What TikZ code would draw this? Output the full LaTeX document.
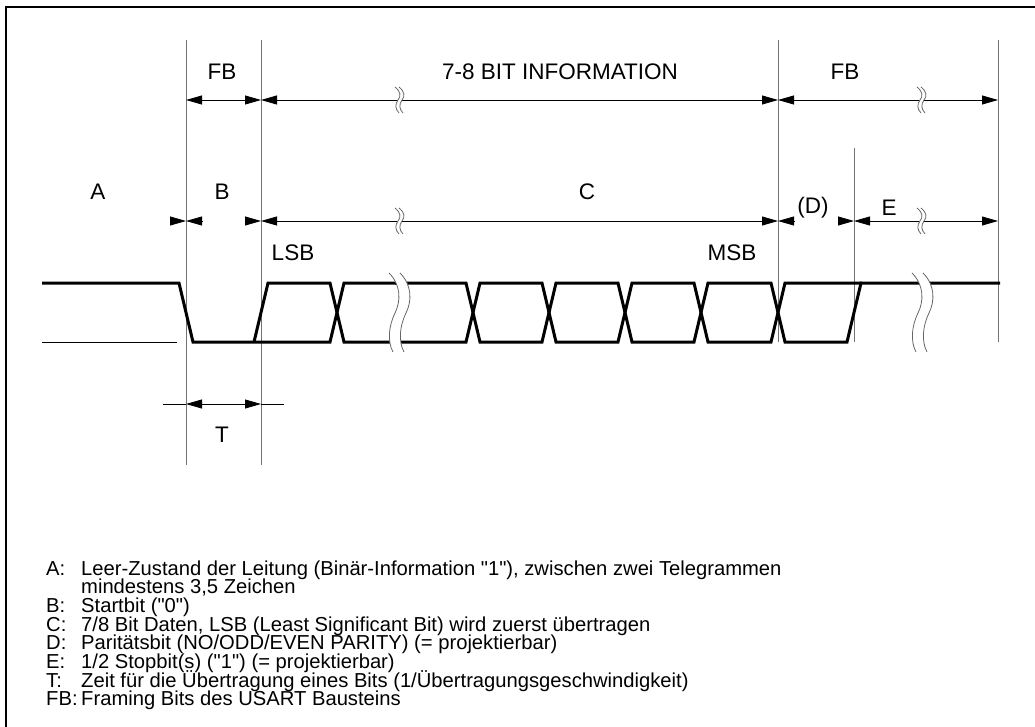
\documentclass[tikz,border=0pt]{standalone}
\usepackage{fontspec}
\setmainfont{Liberation Sans}[Ligatures=TeXOff]
\usetikzlibrary{arrows.meta}
\begin{document}
\begin{tikzpicture}[x=1pt,y=-1pt,
  >={Triangle[length=16pt,width=9pt]},
  frame/.style={draw=black, line width=2.5pt},
  guide/.style={draw=black!55, line width=0.9pt},
  dim/.style={draw=black, line width=0.8pt},
  wave/.style={draw=black, line width=3pt, line join=miter},
  thinwave/.style={draw=black, line width=1pt},
  lbl/.style={font=\fontsize{22.5}{23}\selectfont, inner sep=0pt},
  leg/.style={font=\fontsize{20.2}{20}\selectfont, inner sep=0pt, anchor=base west},
  brk/.style={draw=black!60, line width=0.8pt},
  sbreak/.pic={
    \fill[white] (-3,-13) .. controls (3,-8) and (3,-4) .. (0,0) .. controls (-3,4) and (-3,9) .. (1,13)
      -- (5,13) .. controls (1,9) and (1,4) .. (4,0) .. controls (7,-4) and (7,-8) .. (1,-13) -- cycle;
    \draw[brk] (-3,-13) .. controls (3,-8) and (3,-4) .. (0,0) .. controls (-3,4) and (-3,9) .. (1,13);
    \draw[brk] (1,-13) .. controls (7,-8) and (7,-4) .. (4,0) .. controls (1,4) and (1,9) .. (5,13);
  },
  bbreak/.pic={
    \fill[white] (-8,-40) .. controls (4,-28) and (4,-12) .. (-2,0) .. controls (-8,12) and (-10,28) .. (-4,39)
      -- (7,39) .. controls (1,28) and (3,12) .. (9,0) .. controls (15,-12) and (15,-28) .. (3,-40) -- cycle;
    \draw[brk] (-8,-40) .. controls (4,-28) and (4,-12) .. (-2,0) .. controls (-8,12) and (-10,28) .. (-4,39);
    \draw[brk] (3,-40) .. controls (15,-28) and (15,-12) .. (9,0) .. controls (3,12) and (1,28) .. (7,39);
  }
]
\useasboundingbox (0,0) rectangle (1035,727);
% frame (top and left edges)
\draw[frame] (6,727) -- (6,7) -- (1035,7);

% guide lines
\coordinate (g1t) at (186,40);  \coordinate (g1b) at (186,465);
\coordinate (g2t) at (261,40);  \coordinate (g2b) at (261,465);
\coordinate (g3t) at (778,40);  \coordinate (g3b) at (778,342);
\coordinate (g4t) at (854,148); \coordinate (g4b) at (854,342);
\coordinate (g5t) at (998,40);  \coordinate (g5b) at (998,342);
\foreach \g in {1,...,5} {\draw[guide] (g\g t) -- (g\g b);}

% waveform
\draw[thinwave] (42,342) -- (177,342);
\draw[wave] (42,283) -- (179,283) -- (193,342) -- (330,342) -- (344,283) -- (400,283);
\draw[wave] (254,342) -- (268,283) -- (330,283) -- (344,342) -- (400,342);
\draw[wave] (395,283) -- (466,283) -- (480,342) -- (542,342) -- (556,283) -- (618,283) -- (632,342)
  -- (694,342) -- (708,283) -- (771,283) -- (785,342) -- (847,342) -- (861,283) -- (1000,283);
\draw[wave] (395,342) -- (466,342) -- (480,283) -- (542,283) -- (556,342) -- (618,342) -- (632,283)
  -- (694,283) -- (708,342) -- (771,342) -- (785,283) -- (862,283);
\pic at (397,313) {bbreak};
\pic at (920,313) {bbreak};

% dimension row 1
\coordinate (r1a) at (186,100); \coordinate (r1b) at (261,100);
\coordinate (r1c) at (778,100); \coordinate (r1d) at (998,100);
\draw[dim,<->] (r1a) -- (r1b);
\draw[dim,<->] (r1b) -- (r1c);
\draw[dim,<->] (r1c) -- (r1d);
\pic at (398,100) {sbreak};
\pic at (920,100) {sbreak};
\node[lbl] (fb1) at (222,72) {FB};
\node[lbl] (info) at (560,72) {7-8 BIT INFORMATION};
\node[lbl] (fb2) at (845,72) {FB};

% dimension row 2
\coordinate (r2a) at (186,221); \coordinate (r2b) at (261,221);
\coordinate (r2c) at (778,221); \coordinate (r2d) at (854,221);
\coordinate (r2e) at (998,221);
\draw[dim,->] ([xshift=-16pt]r2a) -- (r2a);
\draw[dim,->] ([xshift=16pt]r2a) -- (r2a);
\draw[dim,->] ([xshift=-16pt]r2b) -- (r2b);
\draw[dim,<->] (r2b) -- (r2c);
\draw[dim,->] ([xshift=16pt]r2c) -- (r2c);
\draw[dim,->] ([xshift=-16pt]r2d) -- (r2d);
\draw[dim,<->] (r2d) -- (r2e);
\pic at (398,221) {sbreak};
\pic at (920,221) {sbreak};
\node[lbl] (la) at (98,192) {A};
\node[lbl] (lb) at (222,192) {B};
\node[lbl] (lc) at (587,192) {C};
\node[lbl] (ld) at (813,208) {(D)};
\node[lbl] (le) at (889,208) {E};
\node[lbl] (lsb) at (293,253) {LSB};
\node[lbl] (msb) at (732,253) {MSB};

% T dimension
\coordinate (ta) at (186,404); \coordinate (tb) at (261,404);
\draw[dim] (163,404) -- (ta);
\draw[dim] (tb) -- (284,404);
\draw[dim,<->] (ta) -- (tb);
\node[lbl] (lt) at (222,435) {T};

% legend
\node[leg] (kA) at (46,575) {A:};
\node[leg] (vA) at (81,575) {Leer-Zustand der Leitung (Binär-Information "1"), zwischen zwei Telegrammen};
\node[leg] (vA2) at (81,593.7) {mindestens 3,5 Zeichen};
\node[leg] (kB) at (46,612.4) {B:};
\node[leg] (vB) at (81,612.4) {Startbit ("0")};
\node[leg] (kC) at (46,631.1) {C:};
\node[leg] (vC) at (81,631.1) {7/8 Bit Daten, LSB (Least Significant Bit) wird zuerst übertragen};
\node[leg] (kD) at (46,649.8) {D:};
\node[leg] (vD) at (81,649.8) {Paritätsbit (NO/ODD/EVEN PARITY) (= projektierbar)};
\node[leg] (kE) at (46,668.5) {E:};
\node[leg] (vE) at (81,668.5) {1/2 Stopbit(s) ("1") (= projektierbar)};
\node[leg] (kT) at (46,687.2) {T:};
\node[leg] (vT) at (81,687.2) {Zeit für die Übertragung eines Bits (1/Übertragungsgeschwindigkeit)};
\node[leg] (kF) at (46,705.9) {FB:};
\node[leg] (vF) at (81,705.9) {Framing Bits des USART Bausteins};
\end{tikzpicture}
\end{document}
